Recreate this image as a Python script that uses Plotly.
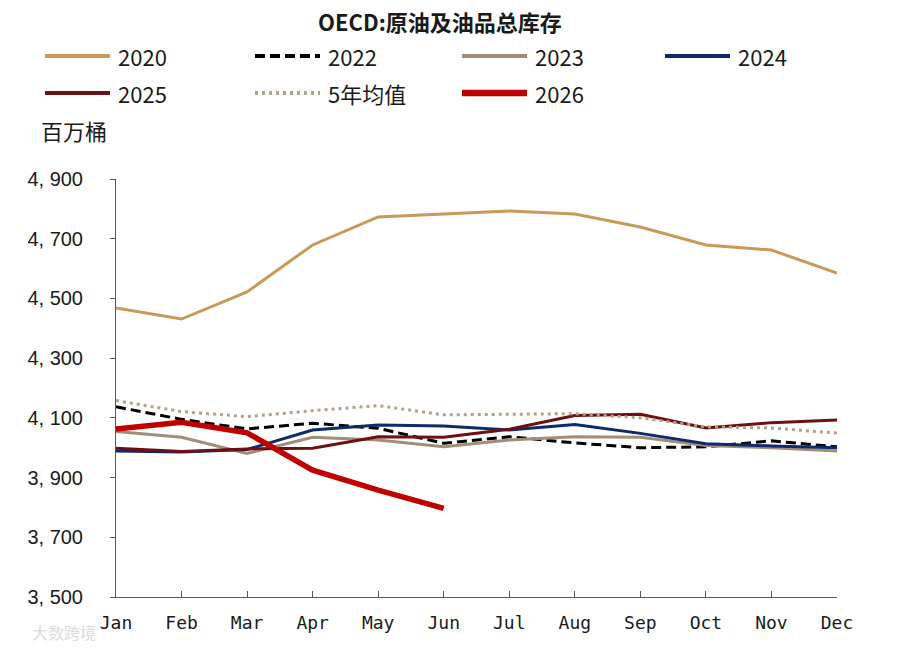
"""OECD crude and product inventories, monthly by year (million barrels)."""
import plotly.graph_objects as go

MONTHS = ["Jan", "Feb", "Mar", "Apr", "May", "Jun",
          "Jul", "Aug", "Sep", "Oct", "Nov", "Dec"]

Y2020 = [4468, 4431, 4522, 4679, 4773, 4783, 4793, 4783, 4739, 4679, 4662, 4585]
Y2022 = [4137, 4095, 4063, 4082, 4065, 4015, 4037, 4016, 4000, 4003, 4023, 4003]
Y2023 = [4054, 4035, 3981, 4035, 4026, 4003, 4026, 4037, 4035, 4007, 4000, 3989]
Y2024 = [3989, 3986, 3994, 4059, 4076, 4073, 4059, 4078, 4048, 4013, 4006, 4000]
Y2025 = [3998, 3987, 3996, 3998, 4037, 4035, 4062, 4108, 4112, 4066, 4084, 4093]
AVG5 = [4158, 4121, 4104, 4124, 4141, 4110, 4112, 4114, 4100, 4070, 4066, 4049]
Y2026 = [4063, 4085, 4050, 3925, 3858, 3797]

Y_TICKS = [3500, 3700, 3900, 4100, 4300, 4500, 4700, 4900]
Y_TICK_TEXT = ["3, 500", "3, 700", "3, 900", "4, 100",
               "4, 300", "4, 500", "4, 700", "4, 900"]

CJK = "'Liberation Sans Narrow', 'Noto Sans CJK SC', sans-serif"
MONO = "'DejaVu Sans Mono', 'Noto Sans CJK SC', monospace"
INK = "#1a1a1a"
AXIS = "#595959"

SERIES = [
    ("2020", Y2020, dict(color="#C8995A", width=3)),
    ("2022", Y2022, dict(color="#000000", width=3, dash="10px,5px")),
    ("2023", Y2023, dict(color="#A38D78", width=3)),
    ("2024", Y2024, dict(color="#0E2A6B", width=3)),
    ("2025", Y2025, dict(color="#6E0F12", width=3)),
    ("5年均值", AVG5, dict(color="#B3A18C", width=3, dash="3px,4px")),
    ("2026", Y2026, dict(color="#C00000", width=5.5)),
]

# page body adds an 8px offset; plot box as seen on the page: x 116..837, y 179..597
OFF = 8
X0, X1, Y0, Y1 = 116, 837, 179, 597
PW, PH = X1 - X0, Y1 - Y0


def px(x):
    return (x - X0) / PW


def py(y):
    return (Y1 - y) / PH


fig = go.Figure()
for name, vals, line in SERIES:
    fig.add_trace(go.Scatter(
        x=MONTHS[:len(vals)], y=vals, mode="lines", name=name, line=line,
    ))

# legend: 4 columns, 2 rows, long swatches like the source chart
shapes, annotations = [], []
col_x = [45, 255, 462, 665]
row_y = [56, 93]
for i, (name, _, line) in enumerate(SERIES):
    x0, y0 = col_x[i % 4], row_y[i // 4]
    sw = dict(line)
    sw["width"] = sw["width"] + 0.8
    shapes.append(dict(type="line", xref="paper", yref="paper",
                       x0=px(x0), x1=px(x0 + 65), y0=py(y0), y1=py(y0), line=sw))
    annotations.append(dict(text=name, xref="paper", yref="paper",
                            x=px(x0 + 71), y=py(y0), xanchor="left", yanchor="middle",
                            showarrow=False, font=dict(family=CJK, size=22, color=INK)))

annotations.append(dict(text="百万桶", xref="paper", yref="paper",
                        x=px(109), y=py(130), xanchor="right", yanchor="middle",
                        showarrow=False, font=dict(family=CJK, size=22, color=INK)))
annotations.append(dict(text="大数跨境", xref="paper", yref="paper",
                        x=px(30), y=py(632), xanchor="left", yanchor="middle",
                        showarrow=False, font=dict(family=CJK, size=16, color="#dcdcdc")))

fig.update_layout(
    width=900, height=648,
    template="plotly_white",
    plot_bgcolor="white", paper_bgcolor="white",
    margin=dict(l=X0 - OFF, r=900 - (X1 - OFF), t=Y0 - OFF, b=648 - (Y1 - OFF),
                autoexpand=False),
    showlegend=False,
    title=dict(text="<b>OECD:原油及油品总库存</b>", x=(440 - OFF) / 900, xanchor="center",
               y=1 - (23 - OFF) / 648, yanchor="middle",
               font=dict(family=CJK, size=22, color=INK)),
    shapes=shapes,
    annotations=annotations,
)
fig.update_xaxes(
    type="category", range=[0, 11], showgrid=False, zeroline=False,
    showline=True, linecolor=AXIS, linewidth=1, automargin=False,
    ticks="inside", ticklen=6, tickcolor=AXIS, ticklabelstandoff=9,
    tickfont=dict(family=MONO, size=18, color=INK),
)
fig.update_yaxes(
    range=[3500, 4900], tickvals=Y_TICKS, ticktext=Y_TICK_TEXT,
    showgrid=False, zeroline=False, automargin=False,
    showline=True, linecolor=AXIS, linewidth=1,
    ticks="outside", ticklen=5, tickcolor=AXIS, ticklabelstandoff=23,
    tickfont=dict(family="'Liberation Sans', Arial, sans-serif", size=20, color=INK),
)

fig.write_html("out.html")
